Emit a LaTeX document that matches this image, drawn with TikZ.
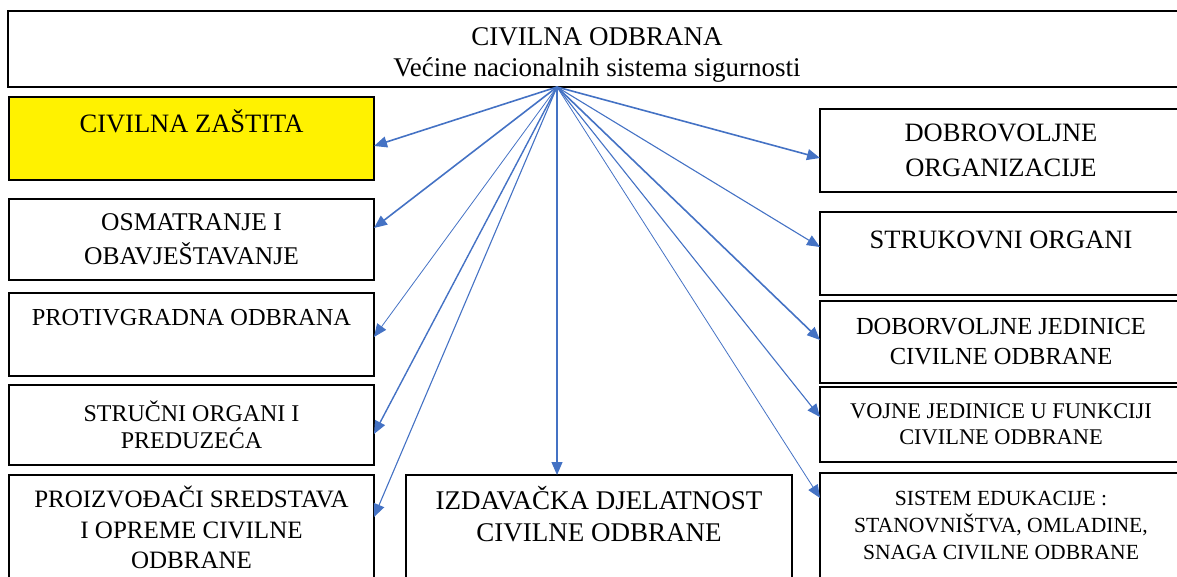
\documentclass[tikz,border=0pt]{standalone}
\usepackage{fontspec}
\setmainfont{Liberation Serif}
\usetikzlibrary{arrows.meta,calc,positioning}
\definecolor{arrowblue}{RGB}{68,114,196}

\begin{document}
\begin{tikzpicture}[x=1pt,y=1pt,>={Triangle[length=13pt,width=11pt]}]
	\tikzstyle{block} = [draw, rectangle, line width=1.6pt, align=center, inner sep=2pt, outer sep=0pt]
	\tikzstyle{rblock} = [block, line width=2.2pt, minimum width=362pt]
	\tikzstyle{lblock} = [block, minimum width=365pt]
	\tikzstyle{link} = [->, color=arrowblue, line width=1.1pt]
	
	\clip (0,0) rectangle (1177,-576);
	
	\node [block, anchor=north west, minimum width=1178pt, minimum height=76pt, font=\fontsize{27}{31}\selectfont] (top) at (8,-11) {\mbox{}\\[-2pt]CIVILNA ODBRANA\\Većine nacionalnih sistema sigurnosti};
	
	\node [lblock, fill=yellow, anchor=north west, minimum height=83pt, font=\fontsize{26.5}{29}\selectfont] (cz) at (9,-97) {CIVILNA ZAŠTITA\\[6pt] \mbox{}};
	
	\node [lblock, minimum height=81pt, font=\fontsize{25.5}{34}\selectfont, below = 19pt of cz] (osm) {OSMATRANJE I\\OBAVJEŠTAVANJE};
	
	\node [lblock, minimum height=83pt, font=\fontsize{24.4}{32}\selectfont, below = 13pt of osm] (prot) {PROTIVGRADNA ODBRANA\\[2pt] \mbox{}};
	
	\node [lblock, minimum height=80pt, font=\fontsize{24}{26.5}\selectfont, below = 9pt of prot] (str) {STRUČNI ORGANI I\\PREDUZEĆA};
	
	\node [lblock, minimum height=108pt, font=\fontsize{25}{30.5}\selectfont, below = 10pt of str] (proiz) {PROIZVOĐAČI SREDSTAVA\\I OPREME CIVILNE\\ODBRANE\\[-28pt]\mbox{}};
	
	\node [block, minimum width=386pt, minimum height=108pt, font=\fontsize{27}{32}\selectfont, right = 32pt of proiz] (izd) {IZDAVAČKA DJELATNOST\\CIVILNE ODBRANE\\[-2pt]\mbox{}};
	
	\node [rblock, anchor=north west, minimum height=83pt, font=\fontsize{26.5}{35}\selectfont] (dorg) at (820,-109) {DOBROVOLJNE\\ORGANIZACIJE};
	
	\node [rblock, minimum height=83pt, font=\fontsize{26.5}{27}\selectfont, below = 20pt of dorg] (struk) {STRUKOVNI ORGANI\\ \mbox{}};
	
	\node [rblock, minimum height=82pt, font=\fontsize{24.5}{30}\selectfont, below = 6pt of struk] (djed) {DOBORVOLJNE JEDINICE\\CIVILNE ODBRANE};
	
	\node [rblock, minimum height=75pt, font=\fontsize{22.4}{26}\selectfont, below = 4pt of djed] (voj) {VOJNE JEDINICE U FUNKCIJI\\CIVILNE ODBRANE};
	
	\node [rblock, minimum height=106pt, font=\fontsize{21.6}{27}\selectfont, below = 11pt of voj] (sist) {SISTEM EDUKACIJE :\\STANOVNIŠTVA, OMLADINE,\\SNAGA CIVILNE ODBRANE};
	
	\coordinate (hub) at ([xshift=-40pt]top.south);
	
	\draw [link, line width=1.6pt] (hub) -- ([yshift=-7.5pt]cz.east);
	\draw [link, line width=1.6pt] (hub) -- ([yshift=11.5pt]osm.east);
	\draw [link, line width=0.8pt] (hub) -- ([yshift=-2.5pt]prot.east);
	\draw [link, line width=1.4pt] (hub) -- ([yshift=-9pt]str.east);
	\draw [link] (hub) -- ([yshift=12pt]proiz.east);
	\draw [link] (hub) -- (hub |- izd.north);
	\draw [link, line width=1.6pt] (hub) -- ([yshift=-7.5pt]dorg.west);
	\draw [link] (hub) -- ([yshift=6.5pt]struk.west);
	\draw [link, line width=1.6pt] (hub) -- ([yshift=2pt]djed.west);
	\draw [link] (hub) -- ([yshift=7.5pt]voj.west);
	\draw [link, line width=0.8pt] (hub) -- ([yshift=28pt]sist.west);
	
\end{tikzpicture}
\end{document}
